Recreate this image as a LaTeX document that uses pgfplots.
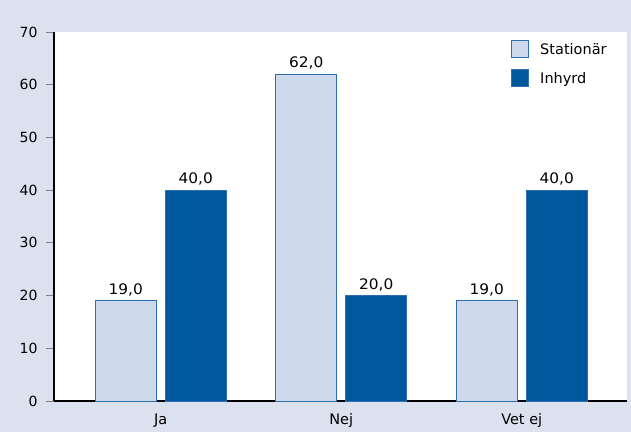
\documentclass[border=0pt]{standalone}
\usepackage{fontspec}
\setmainfont{DejaVu Sans}
\newfontfamily\numfont[FakeStretch=1.06]{DejaVu Sans}
\usepackage{pgfplots}
\pgfplotsset{compat=1.18}
\definecolor{bgc}{HTML}{DCE1EF}
\definecolor{lightbar}{HTML}{CDD8EA}
\definecolor{darkbar}{HTML}{00589C}
\definecolor{edgec}{HTML}{2E6FB2}
\begin{document}
\begin{tikzpicture}[x=1pt,y=1pt]
\fill[bgc] (-54,-31) rectangle (577,401);
\begin{axis}[
  at={(0,0)}, anchor=south west,
  scale only axis, width=573pt, height=369pt,
  font=\fontsize{14.5}{17}\selectfont,
  /pgf/number format/assume math mode=true,
  axis background/.style={fill=white},
  ybar=9pt, bar width=61pt,
  xmin=-0.591, xmax=2.583,
  ymin=0, ymax=70,
  ytick={0,10,...,70},
  xtick={0,1,2}, xticklabels={Ja,Nej,Vet ej},
  axis x line*=bottom, axis y line*=left,
  axis line style={line width=1.3pt, black},
  x axis line style={-}, y axis line style={-},
  major x tick style={draw=none},
  major y tick style={draw=gray, line width=1pt},
  tick align=outside, major tick length=8pt,
  yticklabel style={xshift=-5pt, font=\fontsize{14}{16}\selectfont},
  xticklabel style={yshift=-1pt},
  nodes near coords,
  nodes near coords style={/pgf/number format/.cd, fixed, fixed zerofill, precision=1, use comma, assume math mode=true, /tikz/.cd, font=\numfont\fontsize{14.5}{17}\selectfont, yshift=1pt},
  legend style={at={(0.7976,0.978)}, anchor=north west, draw=none, fill=none, inner sep=0pt,
    font=\fontsize{14.5}{17}\selectfont, row sep=11pt,
    /tikz/every even column/.append style={column sep=0pt}},
  legend cell align=left,
  legend image code/.code={\draw[#1, line width=1pt] (0pt,-8.5pt) rectangle (17pt,8.5pt);},
]
\addplot[fill=lightbar, draw=edgec, line width=1pt] coordinates {(0,19) (1,62) (2,19)};
\addplot[fill=darkbar, draw=edgec, line width=1pt] coordinates {(0,40) (1,20) (2,40)};
\legend{\hspace{9pt}Stationär,\hspace{9pt}Inhyrd}
\end{axis}
\end{tikzpicture}
\end{document}
